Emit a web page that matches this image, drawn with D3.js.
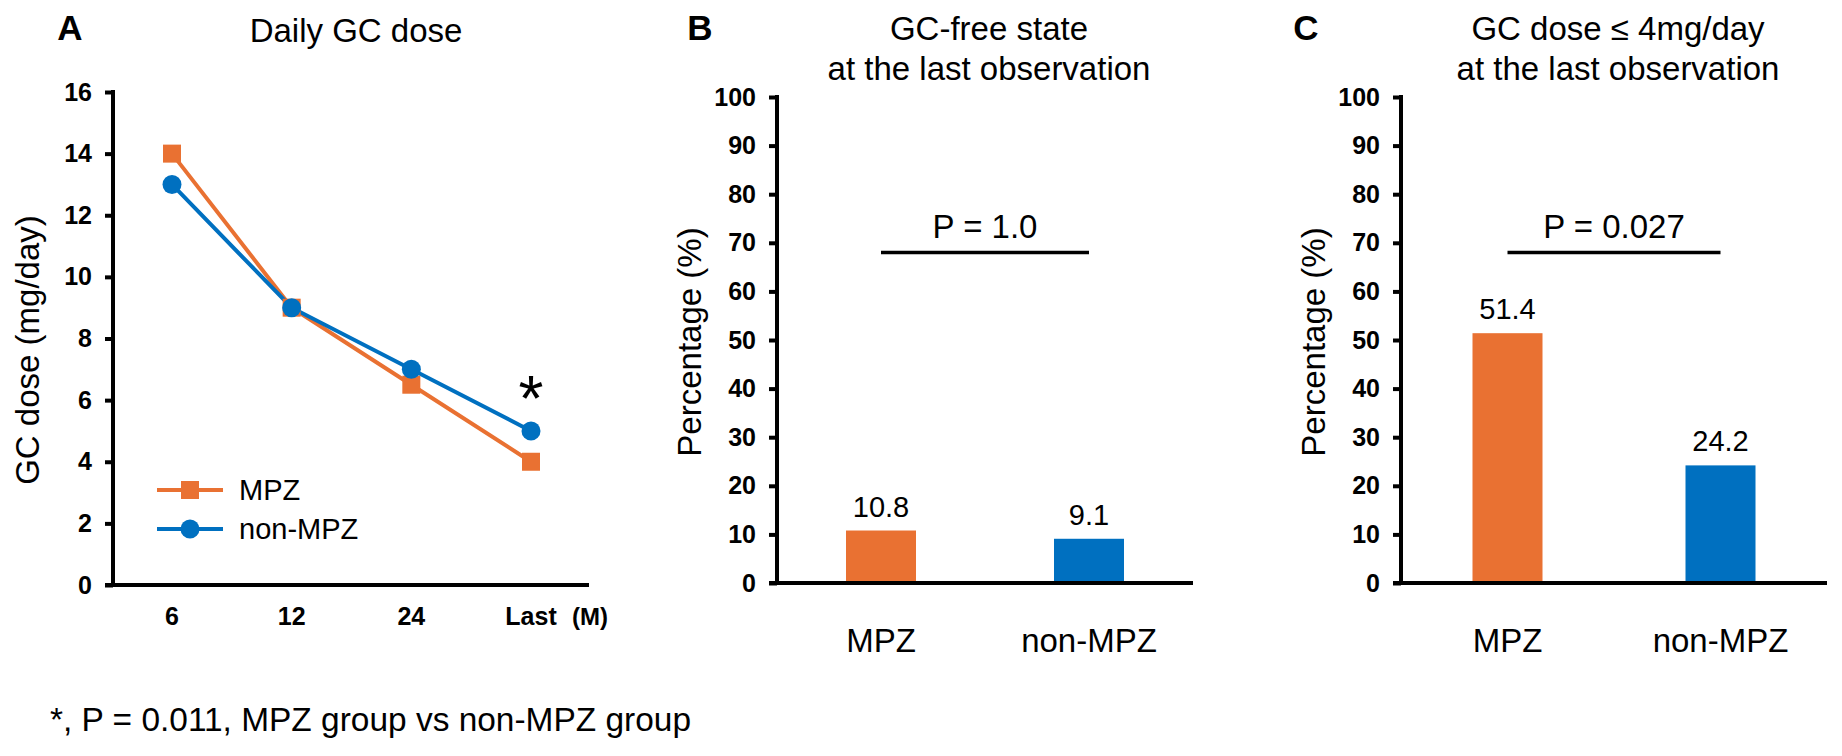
<!DOCTYPE html>
<html>
<head>
<meta charset="utf-8">
<script src="https://cdn.jsdelivr.net/npm/d3@7"></script>
<style>
  body { margin: 0; background: #fff; }
  text { font-family: "Liberation Sans", Arial, sans-serif; fill: #000; }
</style>
</head>
<body>
<svg id="chart" width="1842" height="756"></svg>
<script>
// data
const timeLabels = ["6", "12", "24", "Last"];
const mpzDose = [14, 9, 6.5, 4];
const nonMpzDose = [13, 9, 7, 5];
const doseTicks = [0, 2, 4, 6, 8, 10, 12, 14, 16];

const groups = ["MPZ", "non-MPZ"];
const gcFree = [10.8, 9.1];
const gcLow = [51.4, 24.2];
const pctTicks = [0, 10, 20, 30, 40, 50, 60, 70, 80, 90, 100];
const pValues = ["P = 1.0", "P = 0.027"];

const orange = "#E97132";
const blue = "#0070C0";

let svg = d3.select("#chart");
svg.append("rect").attr("width", 1842).attr("height", 756).attr("fill", "#fff");

// ---------- panel A : line chart ----------
let xA = d3.scalePoint().domain(timeLabels).range([172, 531]);
let yA = d3.scaleLinear().domain([0, 16]).range([585, 92]);

let gA = svg.append("g");

gA.append("text").attr("x", 70).attr("y", 40).attr("text-anchor", "middle")
    .attr("font-size", 35).attr("font-weight", "bold").text("A");
gA.append("text").attr("x", 356).attr("y", 42).attr("text-anchor", "middle")
    .attr("font-size", 33).text("Daily GC dose");

let axA = gA.append("g").attr("transform", "translate(113,0)")
    .call(d3.axisLeft(yA).tickValues(doseTicks).tickSize(8).tickSizeOuter(0).tickPadding(13));
axA.select(".domain").remove();
axA.selectAll("line").attr("stroke", "#000").attr("stroke-width", 4);
axA.selectAll("text").attr("font-size", 25).attr("font-weight", "bold")
    .attr("font-family", "Liberation Sans, Arial, sans-serif");

// axis lines
gA.append("line").attr("x1", 113).attr("x2", 113).attr("y1", yA(16) - 2).attr("y2", yA(0))
    .attr("stroke", "#000").attr("stroke-width", 4);
gA.append("line").attr("x1", 105).attr("x2", 589).attr("y1", yA(0)).attr("y2", yA(0))
    .attr("stroke", "#000").attr("stroke-width", 4);

gA.selectAll(".xlab").data(timeLabels).enter().append("text")
    .attr("class", "xlab")
    .attr("x", (d) => xA(d)).attr("y", 625)
    .attr("text-anchor", "middle").attr("font-size", 25).attr("font-weight", "bold")
    .text((d) => d);
gA.append("text").attr("x", xA("Last") + 41).attr("y", 625)
    .attr("font-size", 24).attr("font-weight", "bold").text("(M)");

gA.append("text").attr("transform", "translate(39,350) rotate(-90)")
    .attr("text-anchor", "middle").attr("font-size", 33).text("GC dose (mg/day)");

let line = d3.line().x((d, i) => xA(timeLabels[i])).y((d) => yA(d));

gA.append("path").datum(mpzDose).attr("d", line)
    .attr("fill", "none").attr("stroke", orange).attr("stroke-width", 4);
gA.append("path").datum(nonMpzDose).attr("d", line)
    .attr("fill", "none").attr("stroke", blue).attr("stroke-width", 4);

gA.selectAll(".sq").data(mpzDose).enter().append("rect")
    .attr("class", "sq")
    .attr("x", (d, i) => xA(timeLabels[i]) - 9).attr("y", (d) => yA(d) - 9)
    .attr("width", 18).attr("height", 18).attr("fill", orange);
gA.selectAll(".dot").data(nonMpzDose).enter().append("circle")
    .attr("class", "dot")
    .attr("cx", (d, i) => xA(timeLabels[i])).attr("cy", (d) => yA(d))
    .attr("r", 9.5).attr("fill", blue);

gA.append("text").attr("x", xA("Last")).attr("y", yA(5) - 10)
    .attr("text-anchor", "middle").attr("font-size", 64).text("*");

// legend
let legA = gA.append("g");
legA.append("line").attr("x1", 157).attr("x2", 223).attr("y1", 490).attr("y2", 490)
    .attr("stroke", orange).attr("stroke-width", 4);
legA.append("rect").attr("x", 181).attr("y", 481).attr("width", 18).attr("height", 18).attr("fill", orange);
legA.append("text").attr("x", 239).attr("y", 500).attr("font-size", 29).text("MPZ");
legA.append("line").attr("x1", 157).attr("x2", 223).attr("y1", 529).attr("y2", 529)
    .attr("stroke", blue).attr("stroke-width", 4);
legA.append("circle").attr("cx", 190).attr("cy", 529).attr("r", 9.5).attr("fill", blue);
legA.append("text").attr("x", 239).attr("y", 539).attr("font-size", 29).text("non-MPZ");

svg.append("text").attr("x", 50).attr("y", 731).attr("font-size", 34)
    .attr("textLength", 641).attr("lengthAdjust", "spacingAndGlyphs")
    .text("*, P = 0.011, MPZ group vs non-MPZ group");

// ---------- panels B and C : bar charts ----------
function barPanel(letter, letterX, titles, axisX, axisEnd, values, pText) {
    let g = svg.append("g");
    let y = d3.scaleLinear().domain([0, 100]).range([583, 97]);
    let x = d3.scalePoint().domain(groups).range([axisX, axisEnd]).padding(0.5);
    let mid = (axisX + axisEnd) / 2;

    g.append("text").attr("x", letterX).attr("y", 40).attr("text-anchor", "middle")
        .attr("font-size", 35).attr("font-weight", "bold").text(letter);
    g.selectAll(".title").data(titles).enter().append("text")
        .attr("class", "title")
        .attr("x", mid + 4).attr("y", (d, i) => 40 + i * 40)
        .attr("text-anchor", "middle").attr("font-size", 33).text((d) => d);

    let ax = g.append("g").attr("transform", `translate(${axisX},0)`)
        .call(d3.axisLeft(y).tickValues(pctTicks).tickSize(8).tickSizeOuter(0).tickPadding(13));
    ax.select(".domain").remove();
    ax.selectAll("line").attr("stroke", "#000").attr("stroke-width", 4);
    ax.selectAll("text").attr("font-size", 25).attr("font-weight", "bold")
        .attr("font-family", "Liberation Sans, Arial, sans-serif");

    g.append("text").attr("transform", `translate(${axisX - 76},342) rotate(-90)`)
        .attr("text-anchor", "middle").attr("font-size", 33).text("Percentage (%)");

    g.selectAll(".bar").data(values).enter().append("rect")
        .attr("class", "bar")
        .attr("x", (d, i) => x(groups[i]) - 35).attr("y", (d) => y(d))
        .attr("width", 70).attr("height", (d) => y(0) - y(d))
        .attr("fill", (d, i) => i === 0 ? orange : blue);

    g.selectAll(".val").data(values).enter().append("text")
        .attr("class", "val")
        .attr("x", (d, i) => x(groups[i])).attr("y", (d) => y(d) - 14)
        .attr("text-anchor", "middle").attr("font-size", 29).text((d) => d.toFixed(1));

    g.append("line").attr("x1", axisX).attr("x2", axisX).attr("y1", y(100) - 2).attr("y2", y(0))
        .attr("stroke", "#000").attr("stroke-width", 4);
    g.append("line").attr("x1", axisX - 8).attr("x2", axisEnd).attr("y1", y(0)).attr("y2", y(0))
        .attr("stroke", "#000").attr("stroke-width", 4);

    g.selectAll(".xlab").data(groups).enter().append("text")
        .attr("class", "xlab")
        .attr("x", (d) => x(d)).attr("y", 652)
        .attr("text-anchor", "middle").attr("font-size", 33).text((d) => d);

    g.append("line").attr("x1", x(groups[0])).attr("x2", x(groups[1]))
        .attr("y1", y(68)).attr("y2", y(68)).attr("stroke", "#000").attr("stroke-width", 3.5);
    g.append("text").attr("x", mid).attr("y", y(71))
        .attr("text-anchor", "middle").attr("font-size", 33).text(pText);
}

barPanel("B", 700, ["GC-free state", "at the last observation"], 777, 1193, gcFree, pValues[0]);
barPanel("C", 1306, ["GC dose \u2264 4mg/day", "at the last observation"], 1401, 1827, gcLow, pValues[1]);
</script>
</body>
</html>
